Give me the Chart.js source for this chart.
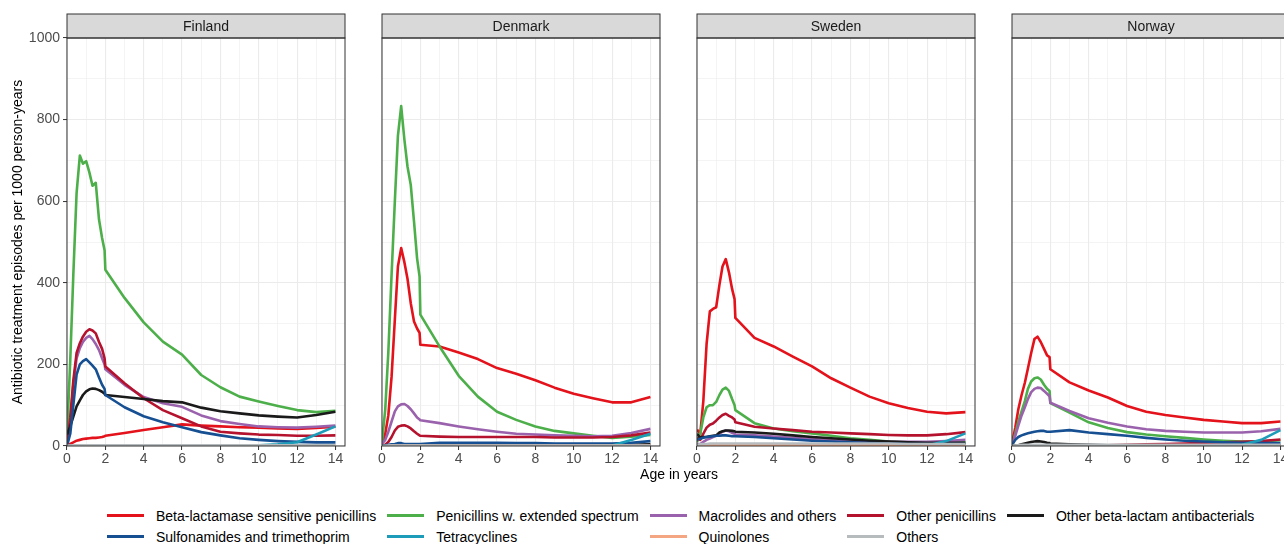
<!DOCTYPE html>
<html>
<head>
<meta charset="utf-8">
<script src="https://cdn.jsdelivr.net/npm/chart.js@4.4.1/dist/chart.umd.min.js"></script>
<style>
  html, body { margin: 0; padding: 0; background: #fff; overflow: hidden; }
  #wrap { position: relative; width: 1284px; height: 544px; overflow: hidden; font-family: "Liberation Sans", Arial, sans-serif; }
  canvas { position: absolute; top: 0; }
  #xtitle { position: absolute; left: 579px; top: 466px; width: 200px; text-align: center; font-size: 14px; line-height: 16px; color: #000; }
  #legend { position: absolute; left: 107px; top: 505px; display: grid; grid-template-columns: repeat(5, auto); grid-auto-rows: 21px; column-gap: 11px; font-size: 14px; color: #000; }
  .item { display: flex; align-items: center; white-space: nowrap; }
  .key { display: inline-block; width: 37px; height: 3px; margin-right: 12px; }
</style>
</head>
<body>
<div id="wrap">
  <canvas id="finland" width="357" height="470" style="left:0px"></canvas>
  <canvas id="denmark" width="357" height="470" style="left:315px"></canvas>
  <canvas id="sweden" width="357" height="470" style="left:630px"></canvas>
  <canvas id="norway" width="357" height="470" style="left:945px"></canvas>
  <div id="xtitle">Age in years</div>
  <div id="legend"></div>
</div>
<script>
document.addEventListener("DOMContentLoaded", function () {
    Chart.defaults.font.family = '"Liberation Sans", Arial, sans-serif';

    const ages = [0, 0.17, 0.33, 0.5, 0.67, 0.83, 1, 1.17, 1.33, 1.5, 1.67, 1.83, 1.96, 2, 3, 4, 5, 6, 7, 8, 9, 10, 11, 12, 13, 14];

    const seriesNames = ['Beta-lactamase sensitive penicillins', 'Penicillins w. extended spectrum', 'Macrolides and others',
        'Other penicillins', 'Other beta-lactam antibacterials', 'Sulfonamides and trimethoprim', 'Tetracyclines', 'Quinolones', 'Others'];
    const seriesColors = ['#e3121b', '#4daf4a', '#9a62ac', '#b5122e', '#1a1a1a', '#164f92', '#1c9cb8', '#f4a582', '#b6bcbe'];

    // rows follow seriesNames order
    const finland = [
        [0, 5, 9, 13, 15, 17, 18, 19, 20, 20, 21, 22, 24, 25, 32, 39, 46, 53, 50, 48, 46, 45, 43, 42, 44, 47],
        [20, 210, 420, 620, 712, 692, 698, 670, 638, 645, 555, 510, 480, 432, 363, 303, 256, 224, 174, 144, 121, 109, 98, 88, 83, 86],
        [0, 60, 150, 215, 240, 255, 265, 270, 262, 250, 235, 215, 200, 188, 150, 120, 105, 96, 75, 61, 54, 48, 46, 45, 47, 50],
        [0, 70, 160, 228, 252, 268, 280, 286, 283, 276, 255, 238, 215, 195, 154, 117, 88, 68, 48, 35, 31, 28, 27, 25, 25, 26],
        [28, 48, 72, 97, 112, 125, 134, 139, 141, 140, 137, 133, 128, 125, 120, 115, 110, 107, 94, 85, 80, 75, 72, 70, 76, 84],
        [0, 30, 100, 175, 200, 208, 213, 205, 197, 188, 168, 150, 140, 125, 95, 73, 58, 46, 34, 26, 19, 15, 12, 10, 9, 9],
        [0, 0, 0, 0, 0, 0, 0, 0, 0, 0, 0, 0, 0, 0, 0, 0, 0, 0, 0, 1, 1, 2, 4, 9, 28, 48],
        [0, 0, 0, 0, 1, 1, 1, 1, 1, 1, 1, 1, 1, 1, 1, 1, 1, 1, 1, 1, 1, 1, 1, 1, 1, 1],
        [0, 1, 1, 2, 2, 2, 2, 2, 2, 2, 2, 2, 2, 2, 2, 2, 2, 2, 2, 2, 2, 2, 2, 2, 2, 2]
    ];
    const denmark = [
        [5, 30, 75, 170, 310, 440, 485, 450, 410, 350, 305, 288, 277, 248, 244, 229, 213, 191, 177, 161, 143, 128, 117, 107, 107, 120],
        [10, 90, 230, 420, 600, 760, 833, 750, 685, 640, 550, 460, 415, 322, 244, 172, 121, 84, 64, 48, 37, 31, 25, 20, 23, 27],
        [5, 15, 35, 60, 85, 97, 102, 103, 98, 90, 80, 70, 65, 63, 56, 48, 41, 35, 30, 28, 26, 25, 24, 25, 32, 42],
        [0, 3, 10, 22, 38, 47, 50, 51, 48, 43, 36, 30, 26, 25, 23, 22, 22, 22, 22, 22, 21, 21, 21, 22, 26, 33],
        [2, 2, 2, 2, 2, 2, 3, 3, 3, 3, 3, 3, 3, 3, 3, 3, 3, 3, 3, 3, 3, 3, 3, 3, 3, 4],
        [0, 2, 3, 4, 5, 7, 7, 5, 5, 5, 5, 5, 5, 5, 8, 8, 8, 8, 7, 7, 6, 6, 6, 6, 8, 12],
        [0, 0, 0, 0, 0, 0, 0, 0, 0, 0, 0, 0, 0, 0, 0, 0, 0, 0, 0, 0, 0, 0, 0, 1, 15, 30],
        [0, 0, 0, 1, 1, 1, 1, 1, 1, 1, 1, 1, 1, 1, 1, 1, 1, 1, 1, 1, 1, 1, 1, 1, 1, 1],
        [0, 0, 1, 1, 1, 1, 1, 1, 1, 1, 1, 1, 1, 1, 1, 1, 1, 1, 1, 1, 1, 1, 1, 1, 1, 1]
    ];
    const sweden = [
        [40, 30, 110, 250, 330, 336, 340, 395, 440, 458, 425, 385, 360, 314, 265, 244, 219, 195, 166, 143, 121, 105, 93, 84, 80, 83],
        [10, 30, 70, 95, 100, 100, 108, 125, 138, 143, 135, 115, 100, 88, 56, 43, 36, 31, 25, 19, 15, 11, 9, 8, 9, 9],
        [5, 5, 10, 15, 18, 22, 25, 30, 35, 38, 36, 32, 30, 28, 26, 23, 20, 17, 14, 12, 11, 10, 10, 10, 12, 15],
        [20, 15, 30, 45, 52, 55, 62, 70, 76, 79, 74, 70, 65, 58, 47, 43, 39, 35, 33, 31, 29, 27, 26, 26, 29, 34],
        [30, 20, 22, 22, 24, 25, 26, 33, 36, 38, 38, 37, 36, 35, 33, 30, 26, 22, 19, 16, 13, 11, 9, 8, 8, 8],
        [15, 18, 20, 22, 23, 24, 25, 25, 26, 26, 25, 24, 24, 24, 22, 19, 16, 13, 11, 9, 7, 6, 5, 5, 5, 5],
        [0, 0, 0, 0, 0, 0, 0, 0, 0, 0, 0, 0, 0, 0, 0, 0, 0, 0, 0, 0, 0, 0, 0, 1, 12, 31],
        [1, 1, 1, 2, 2, 2, 2, 2, 2, 2, 2, 2, 2, 2, 2, 2, 2, 2, 2, 2, 2, 2, 2, 2, 2, 2],
        [3, 4, 5, 5, 6, 6, 6, 6, 6, 6, 6, 6, 6, 6, 6, 6, 6, 6, 6, 6, 6, 6, 5, 5, 5, 5]
    ];
    const norway = [
        [5, 45, 90, 125, 155, 190, 228, 262, 268, 255, 238, 222, 218, 188, 156, 136, 119, 98, 84, 76, 70, 64, 60, 56, 56, 60],
        [3, 30, 60, 85, 110, 140, 158, 166, 168, 163, 150, 140, 135, 105, 82, 58, 44, 34, 28, 24, 20, 16, 13, 11, 11, 14],
        [3, 25, 50, 75, 95, 115, 132, 140, 143, 142, 135, 128, 122, 106, 86, 68, 57, 48, 41, 37, 35, 33, 33, 33, 36, 42],
        [0, 0, 0, 0, 0, 0, 1, 1, 1, 1, 1, 1, 1, 1, 1, 2, 2, 3, 4, 5, 6, 8, 9, 10, 12, 16],
        [0, 1, 2, 4, 6, 8, 10, 11, 12, 11, 10, 8, 7, 6, 4, 3, 2, 2, 2, 2, 2, 2, 2, 2, 2, 2],
        [2, 15, 22, 26, 29, 31, 33, 35, 36, 37, 37, 35, 35, 35, 39, 33, 29, 25, 20, 16, 13, 11, 9, 8, 7, 7],
        [0, 0, 0, 0, 0, 0, 0, 0, 0, 0, 0, 0, 0, 0, 0, 0, 0, 0, 0, 0, 0, 0, 1, 3, 15, 39],
        [0, 0, 1, 1, 1, 1, 1, 1, 1, 1, 1, 1, 1, 1, 1, 1, 1, 1, 1, 1, 1, 1, 1, 1, 1, 1],
        [0, 1, 2, 3, 3, 3, 3, 3, 3, 3, 3, 3, 3, 3, 3, 3, 3, 3, 3, 3, 3, 3, 3, 3, 3, 3]
    ];

    const yTicksMajor = [0, 200, 400, 600, 800, 1000];
    const xTicksMajor = [0, 2, 4, 6, 8, 10, 12, 14];

    // grey strip with country name + panel border, like ggplot facets
    const stripPlugin = {
        id: 'strip',
        afterDraw(chart, args, opts) {
            const ctx = chart.ctx;
            const a = chart.chartArea;
            ctx.save();
            ctx.fillStyle = '#d9d9d9';
            ctx.fillRect(a.left, 14, a.right - a.left, a.top - 14);
            ctx.strokeStyle = '#333333';
            ctx.lineWidth = 1;
            ctx.strokeRect(a.left, 14, a.right - a.left, a.top - 14);
            ctx.strokeRect(a.left, a.top, a.right - a.left, a.bottom - a.top);
            ctx.fillStyle = '#1a1a1a';
            ctx.font = '14px "Liberation Sans", Arial, sans-serif';
            ctx.textAlign = 'center';
            ctx.textBaseline = 'middle';
            ctx.fillText(opts.name, (a.left + a.right) / 2, (14 + a.top) / 2 + 1);
            ctx.restore();
        }
    };

    function makePanel(id, name, rows, first) {
        const isMajorX = v => xTicksMajor.includes(v);
        const isMajorY = v => yTicksMajor.includes(v);
        new Chart(document.getElementById(id), {
            type: 'line',
            data: {
                datasets: rows.map((vals, i) => ({
                    label: seriesNames[i],
                    data: ages.map((a, j) => ({ x: a, y: vals[j] })),
                    borderColor: seriesColors[i],
                    borderWidth: 2.6,
                    borderJoinStyle: 'round',
                    pointRadius: 0,
                    tension: 0,
                    fill: false,
                    order: -i
                }))
            },
            options: {
                responsive: false,
                animation: false,
                layout: { padding: { top: 38, right: 12, left: 0, bottom: 0 } },
                plugins: {
                    legend: { display: false },
                    tooltip: { enabled: false },
                    strip: { name: name }
                },
                scales: {
                    x: {
                        type: 'linear',
                        min: 0,
                        max: 14.5,
                        afterFit: s => { s.height = 24; },
                        border: { display: false },
                        grid: {
                            color: '#ebebeb',
                            lineWidth: c => (c.tick && isMajorX(c.tick.value)) ? 1.1 : 0.55,
                            drawTicks: true,
                            tickLength: 4,
                            tickWidth: 1,
                            tickColor: c => (c.tick && isMajorX(c.tick.value)) ? '#333333' : 'rgba(0,0,0,0)'
                        },
                        ticks: {
                            stepSize: 1,
                            includeBounds: false,
                            autoSkip: false,
                            maxRotation: 0,
                            padding: 1,
                            color: '#4d4d4d',
                            font: { size: 14 },
                            callback: v => isMajorX(v) ? String(v) : ''
                        }
                    },
                    y: {
                        min: 0,
                        max: 1000,
                        afterFit: s => { s.width = 67; },
                        border: { display: false },
                        title: {
                            display: first,
                            text: 'Antibiotic treatment episodes per 1000 person-years',
                            color: '#000',
                            font: { size: 14 },
                            padding: { top: 10, bottom: 0 }
                        },
                        grid: {
                            color: '#ebebeb',
                            lineWidth: c => (c.tick && isMajorY(c.tick.value)) ? 1.1 : 0.55,
                            drawTicks: true,
                            tickLength: 4,
                            tickWidth: 1,
                            tickColor: c => (first && c.tick && isMajorY(c.tick.value)) ? '#333333' : 'rgba(0,0,0,0)'
                        },
                        ticks: {
                            stepSize: 100,
                            autoSkip: false,
                            padding: 3,
                            color: '#4d4d4d',
                            font: { size: 14 },
                            callback: v => (first && isMajorY(v)) ? String(v) : ''
                        }
                    }
                }
            },
            plugins: [stripPlugin]
        });
    }

    makePanel('finland', 'Finland', finland, true);
    makePanel('denmark', 'Denmark', denmark, false);
    makePanel('sweden', 'Sweden', sweden, false);
    makePanel('norway', 'Norway', norway, false);

    // legend, ggplot style: 2 rows x 5 columns at the bottom
    const legend = document.getElementById('legend');
    seriesNames.forEach((n, i) => {
        const item = document.createElement('div');
        item.className = 'item';
        item.innerHTML = '<span class="key" style="background:' + seriesColors[i] + '"></span><span>' + n + '</span>';
        legend.appendChild(item);
    });
});
</script>
</body>
</html>
